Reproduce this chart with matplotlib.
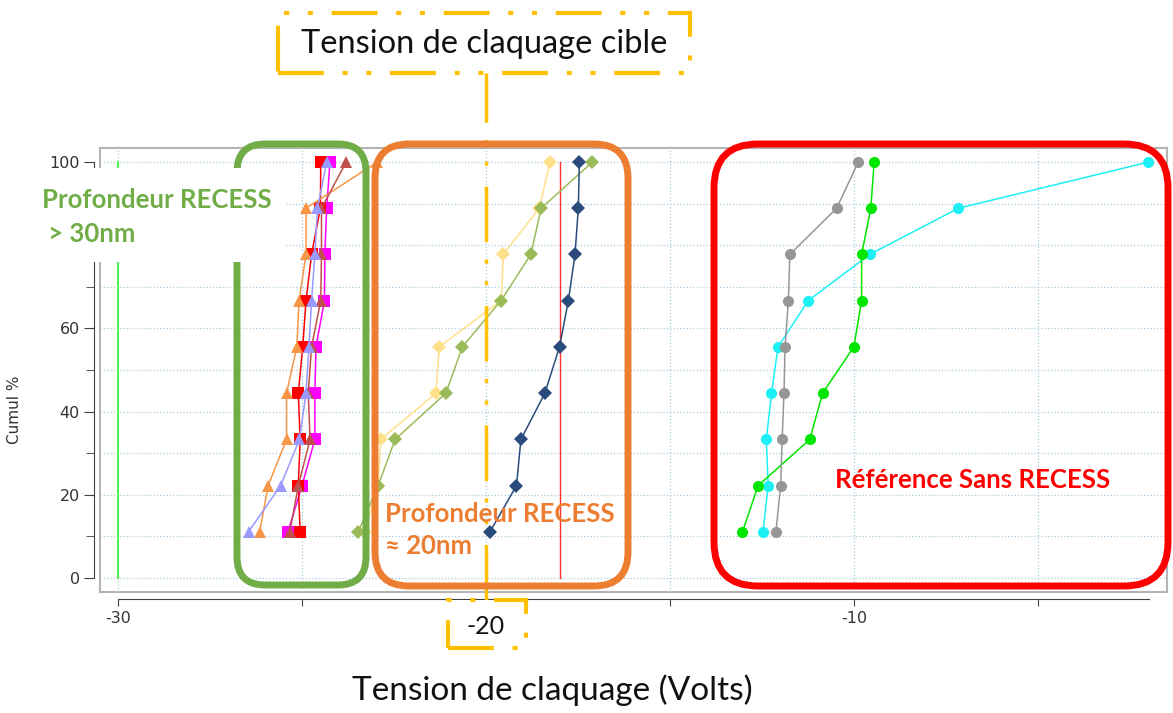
import matplotlib
matplotlib.use("Agg")
import matplotlib.pyplot as plt
from matplotlib.patches import FancyBboxPatch, Rectangle
from matplotlib.transforms import IdentityTransform, blended_transform_factory

# cumulative percentage (9 devices per batch)
cumul = [11.1, 22.2, 33.3, 44.4, 55.6, 66.7, 77.8, 88.9, 100]

# breakdown voltages (V) - profondeur RECESS > 30nm
v_magenta = [-25.38, -25.00, -24.65, -24.65, -24.62, -24.39, -24.38, -24.33, -24.24]
v_red = [-25.05, -25.10, -25.05, -25.10, -24.98, -24.89, -24.74, -24.50, -24.49]
v_orange = [-26.15, -25.92, -25.42, -25.42, -25.14, -25.08, -24.89, -24.89, -22.96]
v_brown = [-25.33, -25.10, -24.78, -24.83, -24.74, -24.49, -24.47, -24.47, -23.80]
v_purple = [-26.45, -25.58, -25.07, -24.89, -24.81, -24.74, -24.65, -24.58, -24.33]

# profondeur RECESS ~ 20nm
v_yellow = [-23.30, -22.93, -22.86, -21.36, -21.27, -19.58, -19.53, -18.55, -18.26]
v_olive = [-23.47, -22.93, -22.47, -21.09, -20.64, -19.59, -18.78, -18.50, -17.11]
v_navy = [-19.89, -19.17, -19.05, -18.40, -18.00, -17.76, -17.58, -17.49, -17.46]

# reference sans RECESS
v_cyan = [-12.47, -12.33, -12.38, -12.24, -12.06, -11.24, -9.57, -7.16, -2.00]
v_lime = [-13.03, -12.60, -11.20, -10.85, -10.00, -9.79, -9.79, -9.54, -9.45]
v_gray = [-12.12, -11.99, -11.95, -11.90, -11.87, -11.78, -11.74, -10.47, -9.88]

# spec limits
limite_basse = -30
limite_haute = -18
tension_cible = -20

xticks = [-30, -25, -20, -15, -10, -5]
xtick_labels = ["-30", "", "", "", "-10", ""]
yticks = [0, 20, 40, 60, 80, 100]
ytick_labels = ["0", "20", "40", "60", "", "100"]  # 80 est caché par l'étiquette

W, H = 1173, 713
fig = plt.figure(figsize=(W / 100, H / 100), dpi=100)
ax = fig.add_axes([100 / W, 1 - 592 / H, 1067 / W, 444 / H])

series = [
    (v_magenta, "#FF00FF", "s", 8.5),
    (v_red, "#FF0000", "s", 8.5),
    (v_orange, "#F79646", "^", 8),
    (v_brown, "#C0504D", "^", 8),
    (v_purple, "#9999FF", "^", 8),
    (v_yellow, "#FFE08A", "D", 7),
    (v_olive, "#9BBB59", "D", 7),
    (v_navy, "#2B4B7C", "D", 7),
    (v_cyan, "#1CF0F5", "o", 8),
    (v_lime, "#00E600", "o", 8),
    (v_gray, "#969696", "o", 8),
]
for vals, col, mk, ms in series:
    ax.plot(vals, cumul, color=col, marker=mk, markersize=ms, lw=1.1,
            markeredgewidth=0, zorder=3)

ax.plot([limite_basse, limite_basse], [0, 100], color="#55F055", lw=1.5, zorder=2)
ax.plot([limite_haute, limite_haute], [0, 100], color="#FF3030", lw=1.0, zorder=2)

ax.set_xlim(-30.49, -1.49)
ax.set_ylim(-3.4, 103.4)

ax.set_xticks(xticks)
ax.set_xticklabels(xtick_labels)
ax.set_yticks(yticks)
ax.set_yticklabels(ytick_labels)
ax.set_yticks(range(10, 100, 20), minor=True)
ax.grid(True, which="both", color="#A9CCE0", ls=":", lw=0.9)
ax.set_axisbelow(True)

for s in ["top", "right"]:
    ax.spines[s].set_visible(False)
ax.spines["left"].set_position(("outward", 4))
ax.spines["bottom"].set_position(("outward", 5))
ax.spines["left"].set_bounds(0, 100)
ax.spines["bottom"].set_bounds(-30, -1.98)
ax.spines["left"].set_color("#404040")
ax.spines["bottom"].set_color("#404040")
ax.tick_params(axis="y", which="major", length=7, color="#404040", labelsize=11.5,
               labelcolor="#333333")
ax.tick_params(axis="y", which="minor", length=6, color="#404040")
ax.tick_params(axis="x", length=5, color="#404040", labelsize=11.5, labelcolor="#333333")
ax.patch.set_edgecolor("#B4B4B4")
ax.patch.set_linewidth(1.5)
ax.set_ylabel("Cumul %", fontsize=11, color="#333333")
ax.yaxis.set_label_coords(-0.073, 0.41)

yellow = "#FFC000"
dashdot = (0, (16, 6, 1.2, 5, 1.2, 5))
box_dash = (0, (11, 4.5, 1.2, 4.5, 1.2, 4.5))
pix = IdentityTransform()


def rbox(x0, y0, x1, y1, col, lw, r, z=4):
    p = FancyBboxPatch((x0, H - y1), x1 - x0, y1 - y0,
                       boxstyle=f"round,pad=0,rounding_size={r}",
                       fc="none", ec=col, lw=lw, transform=pix, zorder=z)
    fig.add_artist(p)


rbox(237, 144, 366, 585, "#70AD47", 5, 28)
rbox(375, 144, 628, 586, "#ED7D31", 5, 34)
rbox(714, 144, 1168, 586, "#FF0000", 5, 44)

# white label box over the green frame
fig.add_artist(Rectangle((22, H - 262), 263, 94, fc="white", ec="none",
                         transform=pix, zorder=5))

lato = ["Lato", "DejaVu Sans"]
fs_lab = 18.5
fig.text(42 / W, 1 - 217 / H, "Profondeur RECESS\n > 30nm", color="#70AD47",
         fontsize=fs_lab, weight="bold", family=lato, va="center", linespacing=1.45,
         zorder=6)
fig.text(385 / W, 1 - 530 / H, "Profondeur RECESS\n≈ 20nm", color="#ED7D31",
         fontsize=fs_lab, weight="bold", family=lato, va="center", linespacing=1.4,
         zorder=6)
fig.text(973 / W, 1 - 480 / H, "Référence Sans RECESS", color="#FF0000", fontsize=fs_lab,
         weight="bold", family=lato, va="center", ha="center", zorder=6)

# target voltage marker
ax.plot([tension_cible, tension_cible], [-0.018, 1.169], transform=ax.get_xaxis_transform(),
        color=yellow, lw=2.5, ls=dashdot, clip_on=False, zorder=5)
fig.add_artist(Rectangle((278, H - 73), 412, 60, fc="white", ec=yellow, lw=3,
                         ls=box_dash, transform=pix, zorder=6))
fig.text(484 / W, 1 - 44 / H, "Tension de claquage cible", fontsize=23.5, family=lato,
         ha="center", va="center", color="#111111", zorder=7)
fig.add_artist(Rectangle((448, H - 648), 78, 48, fc="white", ec=yellow, lw=3,
                         ls=box_dash, transform=pix, zorder=6))
x_data_y_fig = blended_transform_factory(ax.transData, fig.transFigure)
fig.text(tension_cible, 1 - 626 / H, "-20", transform=x_data_y_fig, fontsize=18,
         family=lato, ha="center", va="center", color="#111111", zorder=7)

fig.text(552 / W, 1 - 690 / H, "Tension de claquage (Volts)", fontsize=24, family=lato,
         ha="center", va="center", color="#111111")

fig.savefig("out.png", dpi=100)
